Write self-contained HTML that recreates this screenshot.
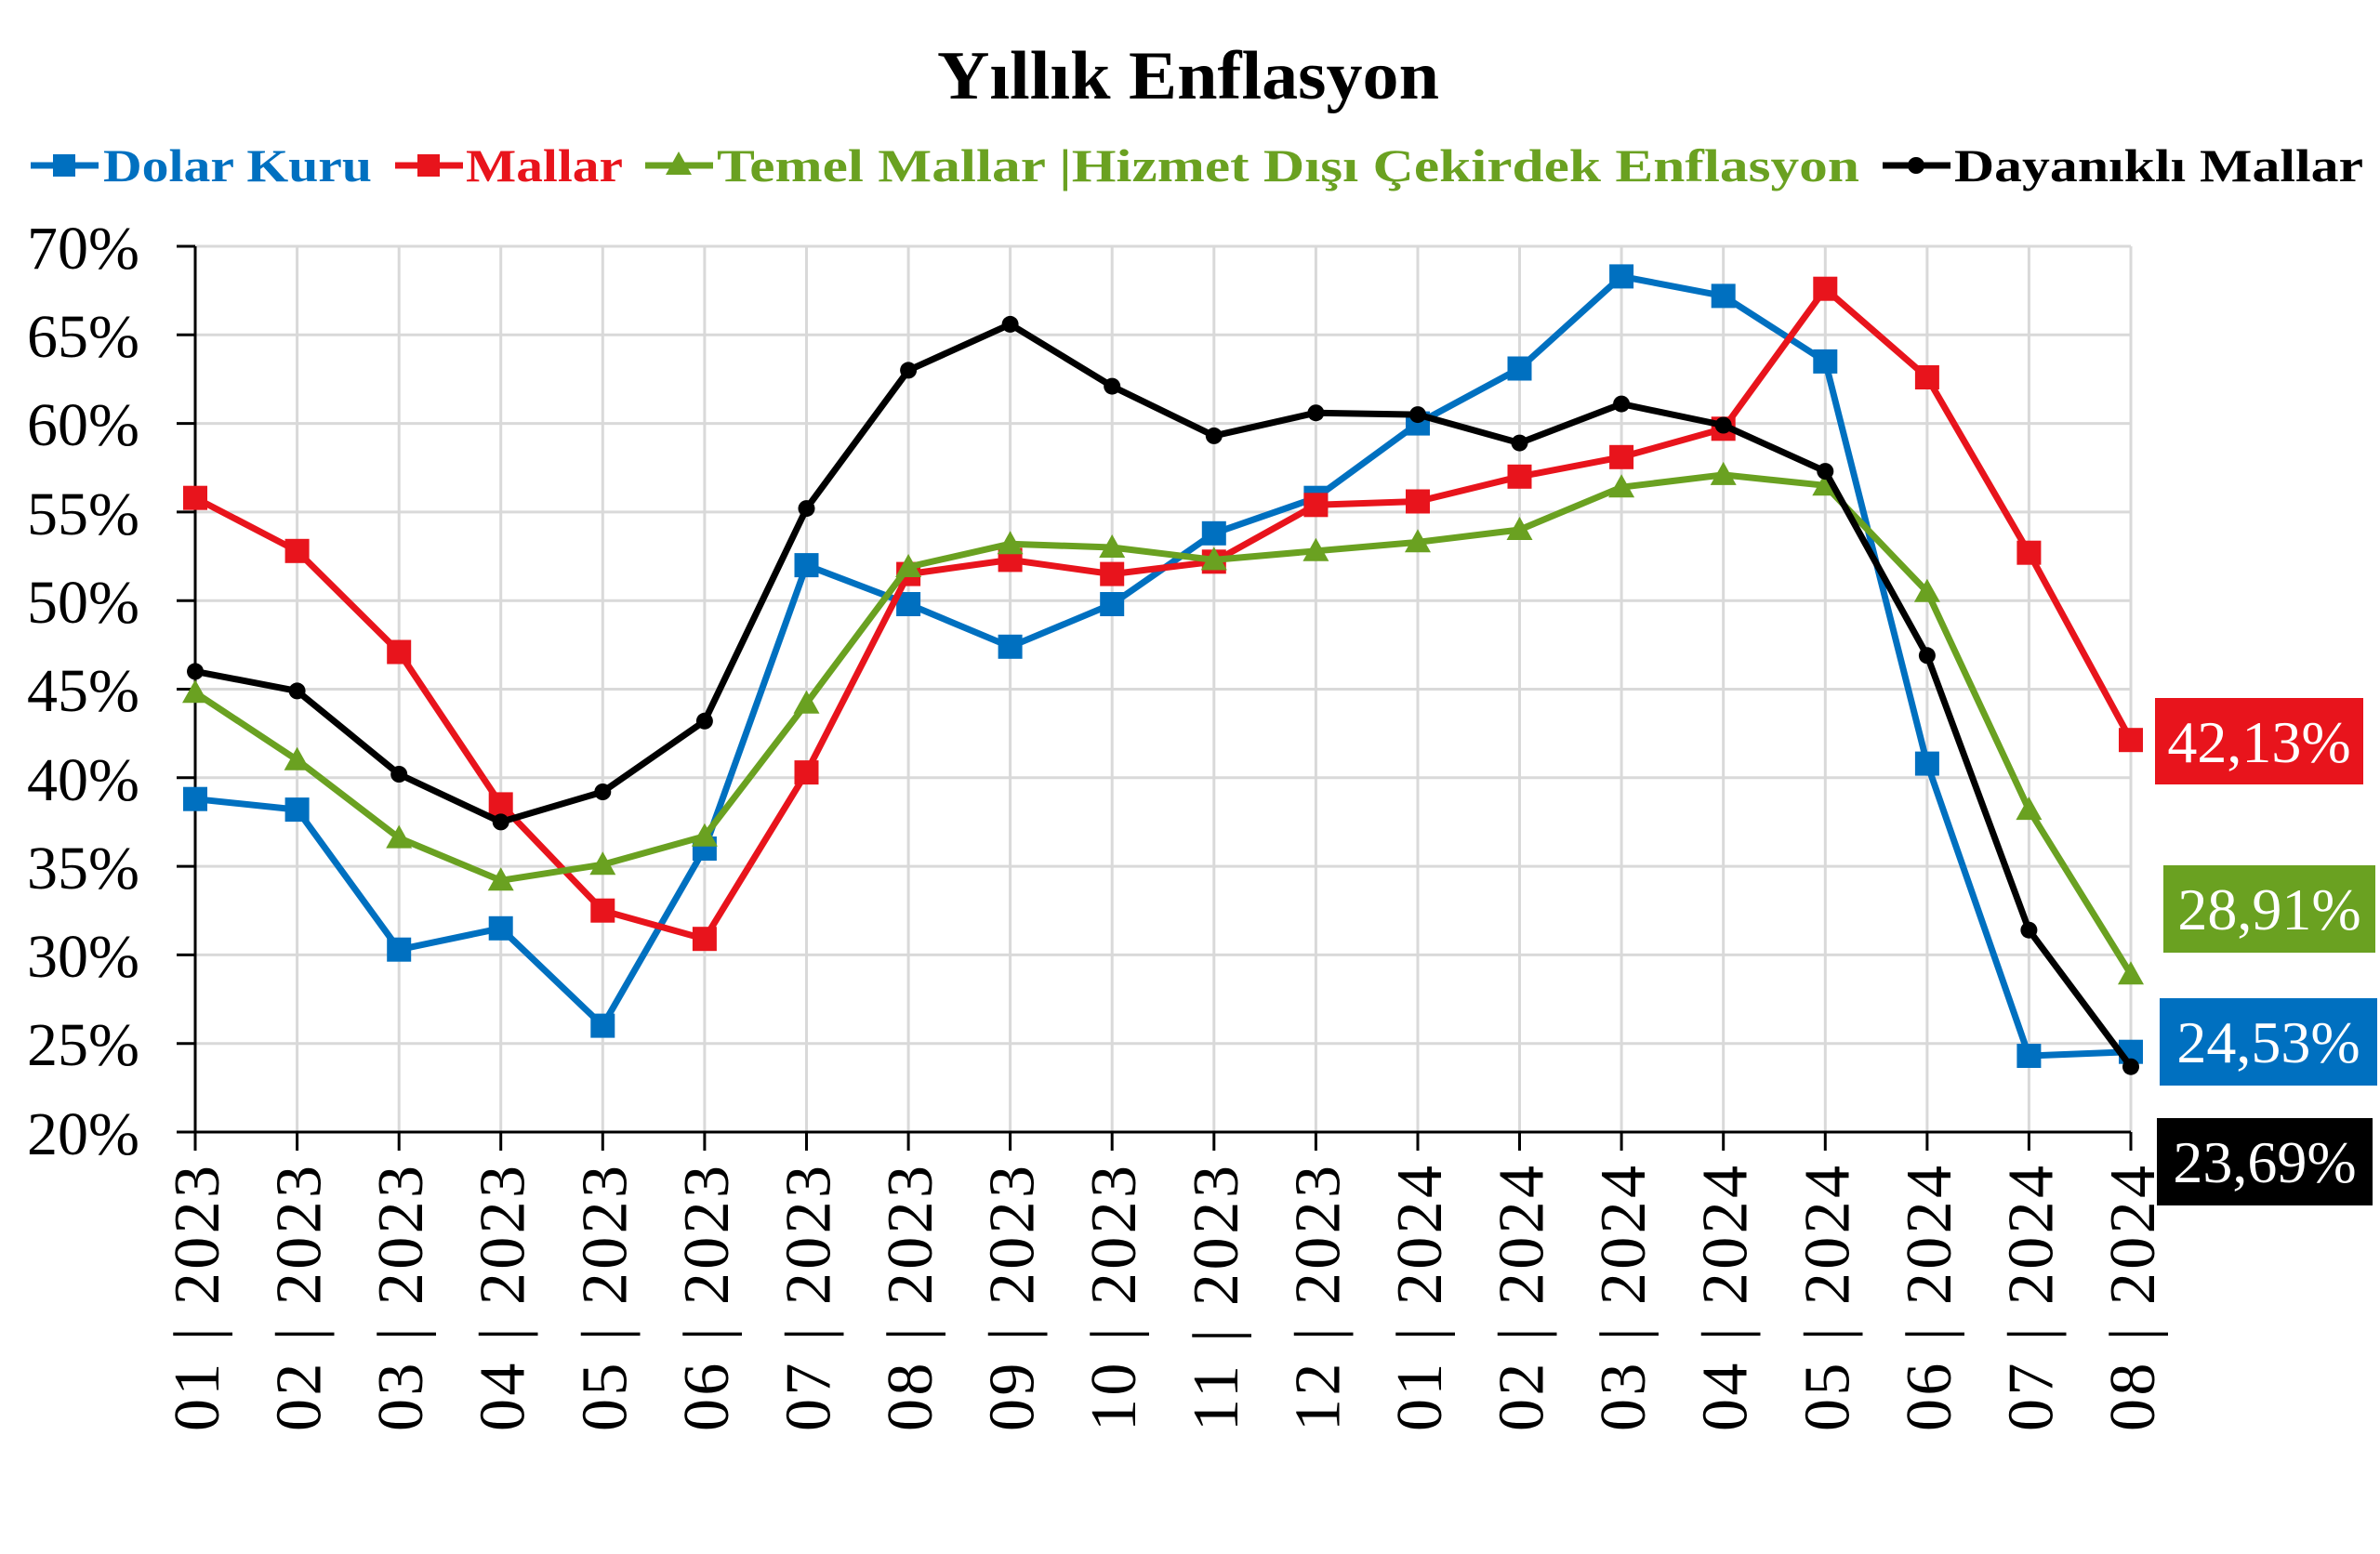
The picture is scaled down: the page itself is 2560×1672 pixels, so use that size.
<!DOCTYPE html>
<html><head><meta charset="utf-8"><style>html,body{margin:0;padding:0;background:#fff}svg{display:block}</style></head>
<body>
<svg width="2560" height="1672" viewBox="0 0 2560 1672" xmlns="http://www.w3.org/2000/svg" font-family="'Liberation Serif', serif">
<defs>
<marker id="sqB" markerUnits="userSpaceOnUse" markerWidth="30" markerHeight="30" refX="15" refY="15"><rect x="2" y="2" width="26" height="26" fill="#0070c0"/></marker>
<marker id="sqR" markerUnits="userSpaceOnUse" markerWidth="30" markerHeight="30" refX="15" refY="15"><rect x="2" y="2" width="26" height="26" fill="#e8141c"/></marker>
<marker id="triG" markerUnits="userSpaceOnUse" markerWidth="32" markerHeight="32" refX="16" refY="17"><polygon points="16,3 30,28 2,28" fill="#6aa121"/></marker>
<marker id="dotK" markerUnits="userSpaceOnUse" markerWidth="22" markerHeight="22" refX="11" refY="11"><circle cx="11" cy="11" r="9" fill="#000"/></marker>
</defs>
<rect width="2560" height="1672" fill="#fff"/>
<text x="1278" y="106" font-size="74" font-weight="bold" text-anchor="middle" textLength="540" lengthAdjust="spacingAndGlyphs">Yıllık Enflasyon</text>
<g font-size="50" font-weight="bold">
<line x1="33" y1="178" x2="106" y2="178" stroke="#0070c0" stroke-width="7"/><rect x="57" y="166" width="24" height="24" fill="#0070c0"/>
<text x="111" y="195" fill="#0070c0" textLength="289" lengthAdjust="spacingAndGlyphs">Dolar Kuru</text>
<line x1="425" y1="178" x2="498" y2="178" stroke="#e8141c" stroke-width="7"/><rect x="449" y="166" width="24" height="24" fill="#e8141c"/>
<text x="501" y="195" fill="#e8141c" textLength="169" lengthAdjust="spacingAndGlyphs">Mallar</text>
<line x1="694" y1="178" x2="767" y2="178" stroke="#6aa121" stroke-width="7"/><polygon points="730,163 744,188 716,188" fill="#6aa121"/>
<text x="771" y="195" fill="#6aa121" textLength="1229" lengthAdjust="spacingAndGlyphs">Temel Mallar |Hizmet Dışı Çekirdek Enflasyon</text>
<line x1="2025" y1="178" x2="2098" y2="178" stroke="#000" stroke-width="7"/><circle cx="2061" cy="178" r="9" fill="#000"/>
<text x="2102" y="195" fill="#000" textLength="440" lengthAdjust="spacingAndGlyphs">Dayanıklı Mallar</text>
</g>
<g stroke="#d9d9d9" stroke-width="3">
<line x1="210" y1="265" x2="2292" y2="265"/><line x1="210" y1="360.3" x2="2292" y2="360.3"/><line x1="210" y1="455.6" x2="2292" y2="455.6"/><line x1="210" y1="550.9" x2="2292" y2="550.9"/><line x1="210" y1="646.2" x2="2292" y2="646.2"/><line x1="210" y1="741.5" x2="2292" y2="741.5"/><line x1="210" y1="836.8" x2="2292" y2="836.8"/><line x1="210" y1="932.1" x2="2292" y2="932.1"/><line x1="210" y1="1027.4" x2="2292" y2="1027.4"/><line x1="210" y1="1122.7" x2="2292" y2="1122.7"/>
<line x1="319.6" y1="265" x2="319.6" y2="1218"/><line x1="429.2" y1="265" x2="429.2" y2="1218"/><line x1="538.7" y1="265" x2="538.7" y2="1218"/><line x1="648.3" y1="265" x2="648.3" y2="1218"/><line x1="757.9" y1="265" x2="757.9" y2="1218"/><line x1="867.5" y1="265" x2="867.5" y2="1218"/><line x1="977.1" y1="265" x2="977.1" y2="1218"/><line x1="1086.6" y1="265" x2="1086.6" y2="1218"/><line x1="1196.2" y1="265" x2="1196.2" y2="1218"/><line x1="1305.8" y1="265" x2="1305.8" y2="1218"/><line x1="1415.4" y1="265" x2="1415.4" y2="1218"/><line x1="1525" y1="265" x2="1525" y2="1218"/><line x1="1634.5" y1="265" x2="1634.5" y2="1218"/><line x1="1744.1" y1="265" x2="1744.1" y2="1218"/><line x1="1853.7" y1="265" x2="1853.7" y2="1218"/><line x1="1963.3" y1="265" x2="1963.3" y2="1218"/><line x1="2072.9" y1="265" x2="2072.9" y2="1218"/><line x1="2182.4" y1="265" x2="2182.4" y2="1218"/><line x1="2292" y1="265" x2="2292" y2="1218"/>
</g>
<g stroke="#000" stroke-width="3">
<line x1="210" y1="265" x2="210" y2="1218"/><line x1="210" y1="1218" x2="2292" y2="1218"/>
<line x1="190" y1="265" x2="210" y2="265"/><line x1="190" y1="360.3" x2="210" y2="360.3"/><line x1="190" y1="455.6" x2="210" y2="455.6"/><line x1="190" y1="550.9" x2="210" y2="550.9"/><line x1="190" y1="646.2" x2="210" y2="646.2"/><line x1="190" y1="741.5" x2="210" y2="741.5"/><line x1="190" y1="836.8" x2="210" y2="836.8"/><line x1="190" y1="932.1" x2="210" y2="932.1"/><line x1="190" y1="1027.4" x2="210" y2="1027.4"/><line x1="190" y1="1122.7" x2="210" y2="1122.7"/><line x1="190" y1="1218" x2="210" y2="1218"/>
<line x1="210" y1="1218" x2="210" y2="1238"/><line x1="319.6" y1="1218" x2="319.6" y2="1238"/><line x1="429.2" y1="1218" x2="429.2" y2="1238"/><line x1="538.7" y1="1218" x2="538.7" y2="1238"/><line x1="648.3" y1="1218" x2="648.3" y2="1238"/><line x1="757.9" y1="1218" x2="757.9" y2="1238"/><line x1="867.5" y1="1218" x2="867.5" y2="1238"/><line x1="977.1" y1="1218" x2="977.1" y2="1238"/><line x1="1086.6" y1="1218" x2="1086.6" y2="1238"/><line x1="1196.2" y1="1218" x2="1196.2" y2="1238"/><line x1="1305.8" y1="1218" x2="1305.8" y2="1238"/><line x1="1415.4" y1="1218" x2="1415.4" y2="1238"/><line x1="1525" y1="1218" x2="1525" y2="1238"/><line x1="1634.5" y1="1218" x2="1634.5" y2="1238"/><line x1="1744.1" y1="1218" x2="1744.1" y2="1238"/><line x1="1853.7" y1="1218" x2="1853.7" y2="1238"/><line x1="1963.3" y1="1218" x2="1963.3" y2="1238"/><line x1="2072.9" y1="1218" x2="2072.9" y2="1238"/><line x1="2182.4" y1="1218" x2="2182.4" y2="1238"/><line x1="2292" y1="1218" x2="2292" y2="1238"/>
</g>
<g font-size="66" text-anchor="end">
<text x="150" y="289">70%</text><text x="150" y="384">65%</text><text x="150" y="479">60%</text><text x="150" y="575">55%</text><text x="150" y="670">50%</text><text x="150" y="765">45%</text><text x="150" y="861">40%</text><text x="150" y="956">35%</text><text x="150" y="1051">30%</text><text x="150" y="1146">25%</text><text x="150" y="1242">20%</text>
</g>
<g font-size="70" text-anchor="end" lengthAdjust="spacingAndGlyphs">
<text transform="translate(235,1254) rotate(-90)" textLength="286">01 | 2023</text>
<text transform="translate(344.6,1254) rotate(-90)" textLength="286">02 | 2023</text>
<text transform="translate(454.2,1254) rotate(-90)" textLength="286">03 | 2023</text>
<text transform="translate(563.7,1254) rotate(-90)" textLength="286">04 | 2023</text>
<text transform="translate(673.3,1254) rotate(-90)" textLength="286">05 | 2023</text>
<text transform="translate(782.9,1254) rotate(-90)" textLength="286">06 | 2023</text>
<text transform="translate(892.5,1254) rotate(-90)" textLength="286">07 | 2023</text>
<text transform="translate(1002.1,1254) rotate(-90)" textLength="286">08 | 2023</text>
<text transform="translate(1111.6,1254) rotate(-90)" textLength="286">09 | 2023</text>
<text transform="translate(1221.2,1254) rotate(-90)" textLength="286">10 | 2023</text>
<text transform="translate(1330.8,1254) rotate(-90)" textLength="286">11 | 2023</text>
<text transform="translate(1440.4,1254) rotate(-90)" textLength="286">12 | 2023</text>
<text transform="translate(1550,1254) rotate(-90)" textLength="286">01 | 2024</text>
<text transform="translate(1659.5,1254) rotate(-90)" textLength="286">02 | 2024</text>
<text transform="translate(1769.1,1254) rotate(-90)" textLength="286">03 | 2024</text>
<text transform="translate(1878.7,1254) rotate(-90)" textLength="286">04 | 2024</text>
<text transform="translate(1988.3,1254) rotate(-90)" textLength="286">05 | 2024</text>
<text transform="translate(2097.9,1254) rotate(-90)" textLength="286">06 | 2024</text>
<text transform="translate(2207.4,1254) rotate(-90)" textLength="286">07 | 2024</text>
<text transform="translate(2317,1254) rotate(-90)" textLength="286">08 | 2024</text>
</g>
<g fill="none" stroke-width="7" stroke-linejoin="round">
<polyline stroke="#0070c0" marker-start="url(#sqB)" marker-mid="url(#sqB)" marker-end="url(#sqB)" points="210,859.7 319.6,871.1 429.2,1021.7 538.7,998.8 648.3,1103.6 757.9,913 867.5,608.1 977.1,650 1086.6,695.8 1196.2,650 1305.8,573.8 1415.4,535.7 1525,455.6 1634.5,396.5 1744.1,297.4 1853.7,318.4 1963.3,388.9 2072.9,821.6 2182.4,1136 2292,1131.7"/>
<polyline stroke="#e8141c" marker-start="url(#sqR)" marker-mid="url(#sqR)" marker-end="url(#sqR)" points="210,535.7 319.6,592.8 429.2,701.5 538.7,865.4 648.3,979.7 757.9,1010.2 867.5,831.1 977.1,617.6 1086.6,602.4 1196.2,617.6 1305.8,604.3 1415.4,543.3 1525,539.5 1634.5,512.8 1744.1,491.8 1853.7,461.3 1963.3,310.7 2072.9,406 2182.4,594.7 2292,796.2"/>
<polyline stroke="#6aa121" marker-start="url(#triG)" marker-mid="url(#triG)" marker-end="url(#triG)" points="210,745.3 319.6,817.7 429.2,901.6 538.7,947.3 648.3,930.2 757.9,899.7 867.5,756.7 977.1,610 1086.6,585.2 1196.2,589 1305.8,602.4 1415.4,592.8 1525,583.3 1634.5,570 1744.1,524.2 1853.7,510.9 1963.3,522.3 2072.9,636.7 2182.4,871.1 2292,1048.2"/>
<polyline stroke="#000" marker-start="url(#dotK)" marker-mid="url(#dotK)" marker-end="url(#dotK)" points="210,722.4 319.6,743.4 429.2,833 538.7,884.4 648.3,852 757.9,775.8 867.5,547.1 977.1,398.4 1086.6,348.9 1196.2,415.6 1305.8,468.9 1415.4,444.2 1525,446.1 1634.5,476.6 1744.1,434.6 1853.7,457.5 1963.3,507.1 2072.9,705.3 2182.4,1000.7 2292,1147.7"/>
</g>
<g font-size="64" fill="#fff" text-anchor="middle">
<rect x="2318" y="751" width="224" height="93" fill="#e8141c"/><text x="2430" y="820">42,13%</text>
<rect x="2327" y="931" width="228" height="94" fill="#6aa121"/><text x="2441" y="1000">28,91%</text>
<rect x="2323" y="1074" width="234" height="94" fill="#0070c0"/><text x="2440" y="1143">24,53%</text>
<rect x="2320" y="1203" width="232" height="94" fill="#000"/><text x="2436" y="1272">23,69%</text>
</g>
</svg>
</body></html>
